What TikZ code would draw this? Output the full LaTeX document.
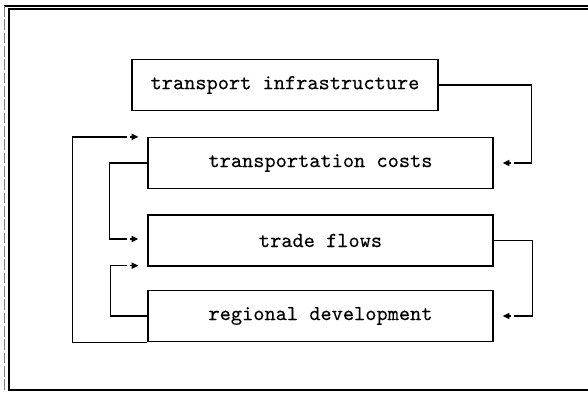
\documentclass[tikz,border=0pt]{standalone}
\usepackage{fontspec}
\setmonofont{lmmono10-regular.otf}[FakeBold=0.25]
\usetikzlibrary{arrows.meta,calc}
\begin{document}
\begin{tikzpicture}[x=0.75pt,y=-0.75pt,
  stage/.style={draw,line width=1pt,inner sep=0pt,minimum height=38.25pt,
    font=\ttfamily\fontsize{16}{18}\selectfont},
  wide/.style={stage,minimum width=258.75pt},
  link/.style={line width=1pt},
  tip/.style={-{Triangle[length=5pt,width=4.6pt]},line width=1pt}]
\useasboundingbox (0,0) rectangle (588,393);
% outer frame
\draw[line width=1.1pt] (590,9) -- (9,9) -- (9,390) -- (590,390);
\draw[line width=0.8pt] (4,6) -- (590,6);
\draw[gray,line width=0.6pt,dash pattern=on 8pt off 2pt] (4,6) -- (4,390);
% the four stages
\node[stage,minimum width=229.5pt] (infra) at (285,85) {transport infrastructure};
\node[wide] (costs) at (320.5,163) {transportation costs};
\node[wide] (flows) at (320.5,240.5) {trade flows};
\node[wide] (devel) at (320.5,316) {regional development};
% arrow tip points
\coordinate (tc) at ($(costs.east)+(9,0)$);
\coordinate (td) at ($(devel.east)+(9,0)$);
\coordinate (tf) at ($(flows.west)+(-9,-1.5)$);
\coordinate (tf2) at ($(flows.south west)+(-9,-1)$);
\coordinate (tcost) at ($(costs.north west)+(-9,0)$);
% right-hand feedback
\draw[link] (infra.east) -- ++(93,0) |- ($(tc)+(11,0)$);
\draw[tip] ($(tc)+(8,0)$) -- (tc);
\draw[link] (flows.east) -- ++(39,0) |- ($(td)+(11,0)$);
\draw[tip] ($(td)+(8,0)$) -- (td);
% left-hand links
\draw[link] (costs.west) -- ++(-38,0) |- ($(tf)+(-11,0)$);
\draw[tip] ($(tf)+(-8,0)$) -- (tf);
\draw[link] (devel.west) -- ++(-37,0) |- ($(tf2)+(-11,0)$);
\draw[tip] ($(tf2)+(-8,0)$) -- (tf2);
\draw[link] (devel.south west) -- ++(-75,0) |- ($(tcost)+(-11,0)$);
\draw[tip] ($(tcost)+(-8,0)$) -- (tcost);
\end{tikzpicture}
\end{document}
